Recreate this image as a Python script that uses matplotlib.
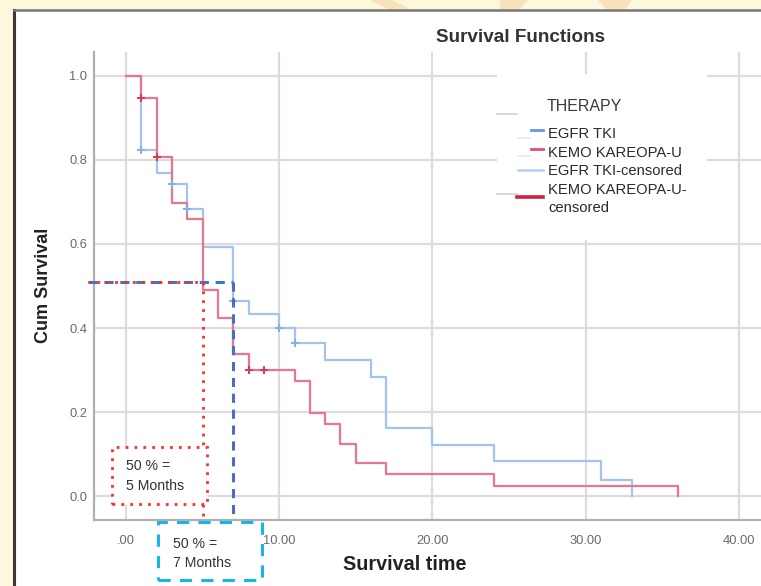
import matplotlib
matplotlib.use("Agg")
import matplotlib.pyplot as plt
from matplotlib.lines import Line2D
from matplotlib.patches import Rectangle, Polygon

# ---------------- data ----------------
egfr_times = [0, 1, 2, 3, 4, 5, 7, 8, 10, 11, 13, 16, 17, 20, 24, 31, 33]
egfr_surv = [1.0, 0.824, 0.770, 0.743, 0.683, 0.594, 0.465, 0.433, 0.399,
             0.364, 0.325, 0.283, 0.161, 0.121, 0.083, 0.038, 0.0]
egfr_cens_t = [1, 3, 4, 7, 10, 11]
egfr_cens_s = [0.824, 0.743, 0.683, 0.465, 0.399, 0.364]

kemo_times = [0, 1, 2, 3, 4, 5, 6, 7, 8, 11, 12, 13, 14, 15, 17, 24, 36]
kemo_surv = [1.0, 0.947, 0.806, 0.698, 0.659, 0.490, 0.425, 0.337, 0.300,
             0.274, 0.198, 0.171, 0.125, 0.078, 0.052, 0.025, 0.0]
kemo_cens_t = [1, 2, 8, 9]
kemo_cens_s = [0.947, 0.806, 0.300, 0.300]

median_level = 0.51
kemo_median = 5
egfr_median = 7

x_ticks = [0, 10, 20, 30, 40]
x_ticklabels = [".00", "10.00", "20.00", "30.00", "40.00"]
y_ticks = [0.0, 0.2, 0.4, 0.6, 0.8, 1.0]
y_ticklabels = ["0.0", "0.2", "0.4", "0.6", "0.8", "1.0"]

legend_title = "THERAPY"
legend_labels = ["EGFR TKI", "KEMO KAREOPA-U", "EGFR TKI-censored",
                 "KEMO KAREOPA-U-\ncensored"]
kemo_note = "50 % =\n5 Months"
egfr_note = "50 % =\n7 Months"

# ---------------- figure ----------------
W, H = 761, 586
fig = plt.figure(figsize=(W / 100, H / 100), dpi=100)
fig.patch.set_facecolor("#fbf8dc")


def fx(px):
    return px / W


def fy(py):
    return 1 - py / H


# white panel with dark border
fig.patches.append(Rectangle((fx(14), 0), 1 - fx(14), fy(10), transform=fig.transFigure,
                             facecolor="white", edgecolor="none", zorder=-3))
fig.lines.append(Line2D([fx(14), fx(14)], [0, fy(10)], transform=fig.transFigure,
                        color="#3a3a3a", lw=2.2, zorder=-2))
fig.lines.append(Line2D([fx(14), 1], [fy(10), fy(10)], transform=fig.transFigure,
                        color="#777777", lw=1.8, zorder=-2))
# faint watermark shapes in the top margin
for pts in ([(370, 0), (392, 0), (410, 9), (388, 9)],
            [(500, 0), (528, 0), (520, 9), (500, 9)],
            [(598, 0), (632, 0), (626, 9), (606, 9)]):
    fig.patches.append(Polygon([(fx(a), fy(b)) for a, b in pts], closed=True,
                               transform=fig.transFigure, facecolor="#f8e2bc",
                               edgecolor="none", zorder=-3))

ax = fig.add_axes([fx(94), fy(520), 1 - fx(94), fy(52) - fy(520)])
ax.set_zorder(1)
ax.set_facecolor("white")
ax.set_xlim(-2.09, 41.45)
ax.set_ylim(-0.057, 1.057)

ax.set_xticks(x_ticks)
ax.set_xticklabels(x_ticklabels)
ax.set_yticks(y_ticks)
ax.set_yticklabels(y_ticklabels)
ax.tick_params(axis="both", length=0, colors="#6a6a6a", labelsize=9.3)
ax.tick_params(axis="x", pad=11)
ax.tick_params(axis="y", pad=5)
for lab in ax.get_xticklabels() + ax.get_yticklabels():
    lab.set_fontfamily("Liberation Sans")

ax.grid(True, color="#dcdcdc", lw=1.6, zorder=0)
ax.set_axisbelow(True)
for s in ("top", "right"):
    ax.spines[s].set_visible(False)
for s in ("left", "bottom"):
    ax.spines[s].set_color("#b0b0b0")
    ax.spines[s].set_linewidth(1.6)

blue_c = "#a3c4f0"
red_c = "#e8768e"
ax.step(egfr_times, egfr_surv, where="post", color=blue_c, lw=1.6, zorder=3)
ax.step(kemo_times, kemo_surv, where="post", color=red_c, lw=1.6, zorder=4)
ax.plot(egfr_cens_t, egfr_cens_s, "+", color="#86aee8", ms=6, mew=1.4, zorder=5)
ax.plot(kemo_cens_t, kemo_cens_s, "+", color="#d83a58", ms=6, mew=1.4, zorder=5)

# median reference lines
x_left = -2.48
ax.plot([x_left, egfr_median], [median_level, median_level], color="#3d78c8",
        lw=2.2, ls=(0, (3, 2.2)), clip_on=False, zorder=6)
ax.plot([egfr_median, egfr_median], [median_level, -0.057], color="#4a6fc0",
        lw=2.2, ls=(0, (3, 2.2)), clip_on=False, zorder=6)
ax.plot([x_left, kemo_median], [median_level, median_level], color="#ff2a2a",
        lw=2.0, ls=(0, (1, 2.2)), clip_on=False, zorder=7)
ax.plot([kemo_median, kemo_median], [median_level, -0.057], color="#ff2a2a",
        lw=2.0, ls=(0, (1, 2.2)), clip_on=False, zorder=7)

# red dotted note box inside the axes
ax.add_patch(Rectangle((-0.93, -0.02), 6.19, 0.137, fill=True, facecolor="white",
                       edgecolor="#ff2a2a", lw=2.0, ls=(0, (1, 2.2)), zorder=8))
ax.text(0.0, 0.048, kemo_note, fontsize=10.2, family="Liberation Sans",
        color="#333333", va="center", ha="left", linespacing=1.55, zorder=9)

# cyan dashed note box below the axes
fig.patches.append(Rectangle((fx(158), fy(580)), fx(262) - fx(158), fy(521.7) - fy(580),
                             transform=fig.transFigure, facecolor="white",
                             edgecolor="#1ab4ec", lw=2.2, ls=(0, (4, 3)), zorder=5))
fig.text(fx(173), fy(553.5), egfr_note, fontsize=10.2, family="Liberation Sans",
         color="#333333", va="center", ha="left", linespacing=1.45, zorder=6)

# titles
fig.text(fx(520), fy(37), "Survival Functions", fontsize=13.6, fontweight="bold",
         family="Liberation Sans", color="#333333", ha="center", va="center")
fig.text(fx(405), fy(565), "Survival time", fontsize=14.2, fontweight="bold",
         family="Liberation Sans", color="#222222", ha="center", va="center")
fig.text(fx(43), fy(285), "Cum Survival", fontsize=13, fontweight="bold",
         family="Liberation Sans", color="#222222", ha="center", va="center",
         rotation=90)

# legend (drawn manually)
fig.patches.append(Rectangle((fx(497), fy(240)), fx(707) - fx(497), fy(74) - fy(240),
                             transform=fig.transFigure, facecolor="white",
                             edgecolor="none", zorder=10))
fig.text(fx(547), fy(107), legend_title, fontsize=11.5, family="Liberation Sans",
         color="#3a3a3a", ha="left", va="center", zorder=11)


def seg(x0, x1, y, color, lw):
    fig.lines.append(Line2D([fx(x0), fx(x1)], [fy(y), fy(y)], transform=fig.transFigure,
                            color=color, lw=lw, zorder=11))


seg(497, 517, 114, "#d8d8d8", 1.4)
seg(531, 543, 130, "#5b9be6", 2.0)
seg(518, 530, 138, "#e6eefb", 1.4)
seg(531, 543, 149, "#e2506e", 2.0)
seg(518, 530, 156, "#fbe6ea", 1.4)
seg(518, 543, 170, "#b4cff4", 1.8)
seg(497, 517, 194, "#d8d8d8", 1.4)
seg(517, 543, 197, "#d21f40", 2.6)

entry_y = [134, 153, 171, 199]
for lab, yy in zip(legend_labels, entry_y):
    fig.text(fx(548), fy(yy), lab, fontsize=10.6, family="Liberation Sans",
             color="#2a2a2a", ha="left", va="center", linespacing=1.3, zorder=11)

fig.savefig("out.png", dpi=100, facecolor=fig.get_facecolor())
